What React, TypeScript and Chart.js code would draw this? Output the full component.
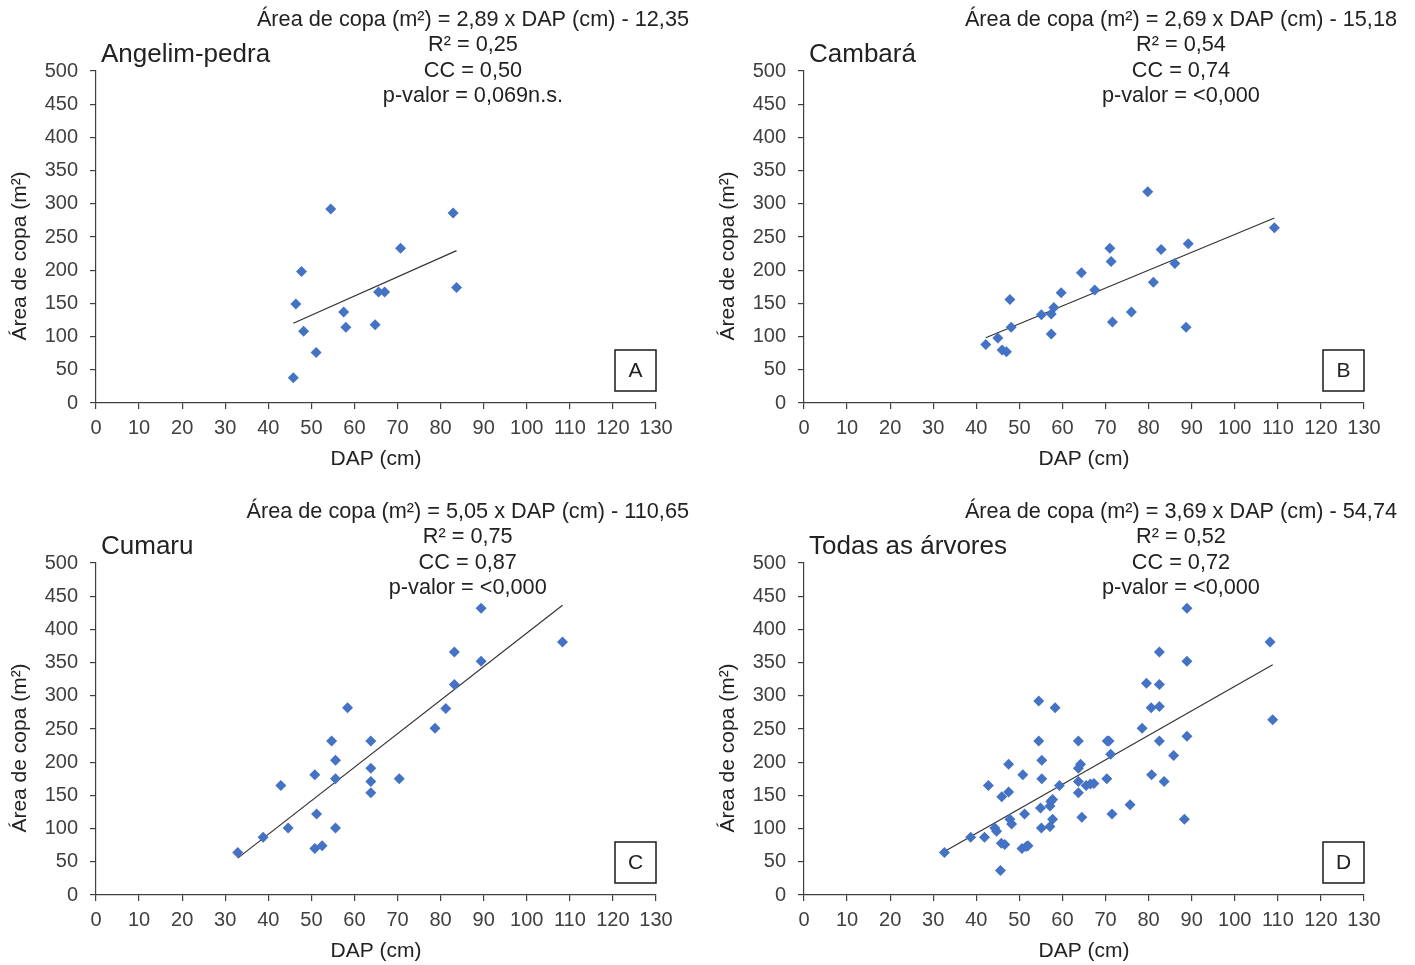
import React, { useEffect, useRef } from 'react';
import { Chart, registerables } from 'chart.js';

Chart.register(...registerables);

// ---------- data ----------
const xTickValues = [0, 10, 20, 30, 40, 50, 60, 70, 80, 90, 100, 110, 120, 130];
const yTickValues = [0, 50, 100, 150, 200, 250, 300, 350, 400, 450, 500];

const angelimDAP = [45.8, 46.4, 47.7, 48.2, 51.1, 54.5, 57.5, 58.0, 64.8, 65.6, 67.0, 70.7, 82.9, 83.7];
const angelimArea = [38, 149, 198, 108, 76, 292, 137, 114, 118, 167, 167, 233, 286, 174];

const cambaraDAP = [42.2, 45.0, 46.0, 47.0, 47.8, 48.1, 55.1, 57.4, 58.0, 57.4, 59.7, 64.4, 67.5, 71.0, 71.3, 71.6, 76.0, 79.8, 81.1, 82.9, 86.1, 88.7, 89.2, 109.2];
const cambaraArea = [88, 98, 80, 77, 156, 114, 133, 134, 144, 104, 166, 196, 170, 233, 213, 122, 137, 318, 182, 231, 210, 114, 240, 264];

const cumaruDAP = [32.9, 38.8, 42.9, 44.6, 50.8, 51.2, 50.8, 52.5, 54.7, 55.6, 55.6, 55.6, 58.4, 63.8, 63.8, 63.8, 63.8, 70.4, 78.7, 81.2, 83.2, 83.2, 89.4, 89.4, 108.3];
const cumaruArea = [64, 87, 165, 101, 181, 122, 70, 74, 232, 203, 175, 101, 282, 232, 191, 171, 154, 175, 251, 281, 317, 366, 352, 432, 381];

const todasDAP = [32.6, 38.7, 41.9, 42.8, 44.3, 44.7, 45.9, 45.8, 46.6, 45.6, 47.5, 47.5, 47.8, 48.2, 50.8, 51.2, 50.6, 51.6, 52.0, 54.5, 54.5, 55.2, 55.2, 54.9, 55.1, 57.1, 57.3, 57.7, 57.1, 57.7, 58.3, 59.3, 63.7, 63.7, 64.2, 63.7, 63.7, 64.5, 65.5, 66.5, 67.3, 70.4, 70.8, 71.2, 70.3, 71.5, 75.7, 78.5, 79.5, 80.6, 80.7, 82.5, 82.5, 82.5, 82.5, 83.6, 85.8, 88.3, 88.9, 88.9, 88.9, 108.2, 108.8];
const todasArea = [64, 87, 87, 165, 101, 96, 148, 78, 76, 37, 197, 155, 114, 107, 181, 122, 70, 73, 74, 292, 232, 203, 175, 131, 101, 134, 141, 144, 103, 114, 282, 165, 232, 191, 197, 171, 154, 117, 165, 167, 168, 232, 232, 212, 175, 122, 136, 251, 319, 282, 181, 366, 317, 284, 232, 171, 210, 114, 432, 352, 239, 381, 264];

const panelNames = ['Angelim-pedra', 'Cambará', 'Cumaru', 'Todas as árvores'];
const panelLetters = ['A', 'B', 'C', 'D'];
const slopes = [2.89, 2.69, 5.05, 3.69];
const intercepts = [-12.35, -15.18, -110.65, -54.74];
const r2Labels = ['0,25', '0,54', '0,75', '0,52'];
const ccLabels = ['0,50', '0,74', '0,87', '0,72'];
const pLabels = ['0,069n.s.', '<0,000', '<0,000', '<0,000'];

const panelX = [angelimDAP, cambaraDAP, cumaruDAP, todasDAP];
const panelY = [angelimArea, cambaraArea, cumaruArea, todasArea];

// ---------- styling ----------
const FONT = '"Liberation Sans", Arial, sans-serif';
const AXIS_COLOR = '#404040';
const TICK_TEXT = '#404040';
const TEXT = '#222222';
const MARKER = '#4472C4';

const CANVAS_W = 707;
const CANVAS_H = 482;

const fmt = (v: number) => v.toFixed(2).replace('.', ',');

const textPlugin = (idx: number) => ({
  id: 'panelText' + idx,
  afterDraw(chart: any) {
    const ctx = chart.ctx as CanvasRenderingContext2D;
    const a = chart.chartArea;
    ctx.save();
    ctx.fillStyle = TEXT;
    // panel title
    ctx.font = `26px ${FONT}`;
    ctx.textAlign = 'left';
    ctx.textBaseline = 'middle';
    ctx.fillText(panelNames[idx], a.left + 5, a.top - 16);

    // equation block
    const eq = `Área de copa (m²) = ${fmt(slopes[idx])} x DAP (cm) - ${fmt(-intercepts[idx])}`;
    const lines = [eq, `R² = ${r2Labels[idx]}`, `CC = ${ccLabels[idx]}`, `p-valor = ${pLabels[idx]}`];
    ctx.font = `21.7px ${FONT}`;
    const w0 = ctx.measureText(eq).width;
    const cx = a.left + 593 - w0 / 2;
    ctx.textAlign = 'center';
    lines.forEach((l, i) => {
      ctx.fillText(l, cx, a.top - 51 + 25.5 * i);
    });

    // box letter
    const bw = 41;
    const bx = a.right - bw;
    const by = a.bottom - 53;
    ctx.strokeStyle = '#1a1a1a';
    ctx.lineWidth = 1.5;
    ctx.strokeRect(bx, by, bw, bw);
    ctx.font = `21px ${FONT}`;
    ctx.fillText(panelLetters[idx], bx + bw / 2, by + bw / 2 + 1);

    // axis titles
    ctx.font = `21px ${FONT}`;
    ctx.fillText('DAP (cm)', (a.left + a.right) / 2, a.bottom + 56);
    ctx.save();
    ctx.translate(a.left - 76, (a.top + a.bottom) / 2 + 19);
    ctx.rotate(-Math.PI / 2);
    ctx.fillText('Área de copa (m²)', 0, 0);
    ctx.restore();
    ctx.restore();
  },
});

function Panel({ idx, left, top }: { idx: number; left: number; top: number }) {
  const ref = useRef<HTMLCanvasElement | null>(null);
  useEffect(() => {
    if (!ref.current) return;
    const xs = panelX[idx];
    const ys = panelY[idx];
    const pts = xs.map((x, i) => ({ x, y: ys[i] }));
    const xmin = Math.min(...xs);
    const xmax = Math.max(...xs);
    const trend = [xmin, xmax].map((x) => ({ x, y: slopes[idx] * x + intercepts[idx] }));
    const chart = new Chart(ref.current, {
      type: 'scatter',
      data: {
        datasets: [
          {
            data: trend,
            showLine: true,
            borderColor: '#333333',
            borderWidth: 1.2,
            pointRadius: 0,
            order: 2,
          } as any,
          {
            data: pts,
            pointStyle: 'rectRot',
            pointRadius: 5.5,
            backgroundColor: MARKER,
            borderColor: MARKER,
            borderWidth: 0,
            order: 1,
          } as any,
        ],
      },
      options: {
        responsive: false,
        animation: false,
        devicePixelRatio: 1,
        layout: { padding: { left: 0, top: 70, right: CANVAS_W - 656, bottom: 0 } },
        plugins: { legend: { display: false }, tooltip: { enabled: false } },
        scales: {
          x: {
            type: 'linear',
            min: 0,
            max: 130,
            afterBuildTicks: (s: any) => {
              s.ticks = xTickValues.map((v) => ({ value: v }));
            },
            afterFit: (s: any) => {
              s.height = 80;
            },
            ticks: {
              autoSkip: false,
              maxRotation: 0,
              padding: 7,
              color: TICK_TEXT,
              font: { family: FONT, size: 20 },
            },
            grid: { drawOnChartArea: false, drawTicks: true, tickLength: 6, color: AXIS_COLOR, lineWidth: 1.2 },
            border: { display: true, color: AXIS_COLOR, width: 1.2 },
          },
          y: {
            type: 'linear',
            min: 0,
            max: 500,
            afterBuildTicks: (s: any) => {
              s.ticks = yTickValues.map((v) => ({ value: v }));
            },
            afterFit: (s: any) => {
              s.width = 96;
            },
            ticks: {
              autoSkip: false,
              padding: 12,
              color: TICK_TEXT,
              font: { family: FONT, size: 20 },
            },
            grid: { drawOnChartArea: false, drawTicks: true, tickLength: 6, color: AXIS_COLOR, lineWidth: 1.2 },
            border: { display: true, color: AXIS_COLOR, width: 1.2 },
          },
        },
      } as any,
      plugins: [textPlugin(idx)],
    });
    return () => chart.destroy();
  }, [idx]);
  return (
    <div style={{ position: 'absolute', left, top, width: CANVAS_W, height: CANVAS_H }}>
      <canvas ref={ref} width={CANVAS_W} height={CANVAS_H} style={{ display: 'block' }} />
    </div>
  );
}

export default function App() {
  return (
    <div style={{ position: 'absolute', left: 0, top: 0, width: 1415, height: 965, background: '#fff', overflow: 'hidden' }}>
      <Panel idx={0} left={0} top={1} />
      <Panel idx={1} left={708} top={1} />
      <Panel idx={2} left={0} top={493} />
      <Panel idx={3} left={708} top={493} />
    </div>
  );
}
